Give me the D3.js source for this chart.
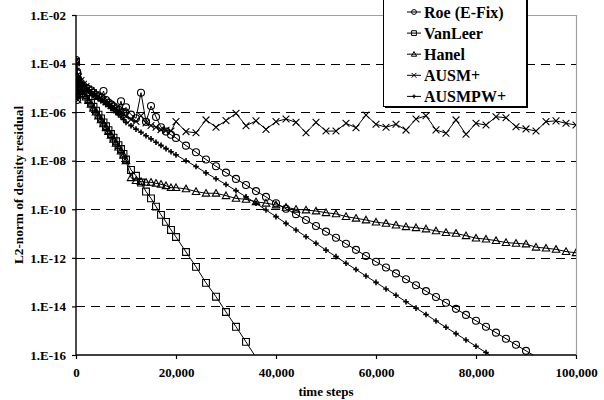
<!DOCTYPE html>
<html><head><meta charset="utf-8">
<script src="https://cdn.jsdelivr.net/npm/d3@7"></script>
<style>
body{margin:0;background:#fff;}
svg{display:block;font-family:"Liberation Serif","Times New Roman",serif;font-weight:bold;}
</style></head><body>
<svg id="chart" width="604" height="400"></svg>
<script>
// ---------- DATA ----------
const steps = [0,100,200,300,400,500,1000,1500,2000,2500,3000,3500,4000,4500,5000,5500,6000,6500,7000,7500,8000,8500,9000,9500,10000,
 11000,12000,13000,14000,15000,16000,17000,18000,19000,20000,
 22000,24000,26000,28000,30000,32000,34000,36000,38000,40000,42000,44000,46000,48000,50000,52000,54000,56000,58000,60000,
 62000,64000,66000,68000,70000,72000,74000,76000,78000,80000,82000,84000,86000,88000,90000,92000,94000,96000,98000,100000];

const roeValues = [1.41e-4,2.51e-5,3.16e-6,3.98e-5,7.94e-6,2.0e-5,1.58e-5,1.20e-5,1.0e-5,8.91e-6,7.94e-6,6.31e-6,5.01e-6,4.47e-6,3.80e-6,7.41e-6,3.16e-6,2.51e-6,2.09e-6,1.74e-6,1.45e-6,1.26e-6,2.82e-6,1.0e-6,1.58e-6,
 7.94e-7,5.62e-7,6.31e-6,3.98e-7,1.78e-6,6.31e-7,2.40e-7,1.58e-7,1.17e-7,8.71e-8,
 4.17e-8,2.24e-8,1.12e-8,5.89e-9,3.24e-9,1.78e-9,1.0e-9,5.62e-10,3.24e-10,1.78e-10,1.05e-10,6.31e-11,3.63e-11,2.04e-11,1.20e-11,6.76e-12,3.80e-12,2.14e-12,1.20e-12,6.92e-13,
 3.98e-13,2.29e-13,1.32e-13,7.41e-14,4.27e-14,2.45e-14,1.41e-14,7.94e-15,4.47e-15,2.57e-15,1.45e-15,8.32e-16,4.68e-16,2.63e-16,1.48e-16,8.51e-17];

const vanLeerValues = [1.12e-4,6.31e-6,3.98e-5,1.0e-5,2.0e-5,8.91e-6,7.94e-6,6.31e-6,5.01e-6,3.47e-6,2.40e-6,1.66e-6,1.15e-6,7.94e-7,5.50e-7,3.80e-7,2.63e-7,1.82e-7,1.26e-7,8.91e-8,6.31e-8,4.37e-8,3.02e-8,1.91e-8,1.12e-8,
 4.17e-9,2.40e-9,1.26e-9,5.37e-10,2.82e-10,1.29e-10,5.89e-11,3.02e-11,1.41e-11,7.24e-12,
 1.74e-12,4.27e-13,9.33e-14,2.51e-14,5.89e-15,1.45e-15,3.47e-16,7.94e-17];

const hanelValues = [1.26e-4,1.0e-5,3.16e-5,5.01e-6,1.58e-5,1.0e-5,7.08e-6,5.62e-6,4.17e-6,3.02e-6,2.09e-6,1.45e-6,1.0e-6,6.92e-7,4.79e-7,3.31e-7,2.29e-7,1.58e-7,1.10e-7,7.59e-8,5.25e-8,3.63e-8,2.51e-8,1.66e-8,1.0e-8,
 2.0e-9,1.51e-9,1.38e-9,1.29e-9,1.29e-9,1.17e-9,1.07e-9,9.33e-10,7.76e-10,7.76e-10,
 6.92e-10,5.37e-10,4.57e-10,4.57e-10,3.63e-10,2.82e-10,2.57e-10,2.04e-10,1.78e-10,1.51e-10,1.20e-10,1.0e-10,9.33e-11,8.51e-11,7.24e-11,6.46e-11,5.01e-11,4.27e-11,3.63e-11,2.95e-11,
 2.63e-11,2.24e-11,1.91e-11,1.74e-11,1.55e-11,1.29e-11,1.10e-11,1.02e-11,8.13e-12,6.46e-12,5.89e-12,5.13e-12,4.27e-12,3.98e-12,3.72e-12,2.75e-12,2.51e-12,2.24e-12,1.82e-12,1.62e-12];

const ausmPlusValues = [1.26e-4,5.01e-6,3.16e-5,1.26e-5,3.16e-6,2.82e-5,2.0e-5,1.41e-5,1.12e-5,8.91e-6,7.59e-6,6.31e-6,5.37e-6,4.47e-6,3.80e-6,3.16e-6,2.69e-6,2.24e-6,1.91e-6,1.58e-6,1.32e-6,1.12e-6,9.55e-7,7.94e-7,6.76e-7,
 5.01e-7,4.17e-7,7.08e-7,3.55e-7,2.82e-7,2.40e-7,1.91e-7,1.78e-7,1.66e-7,4.07e-7,
 1.58e-7,1.41e-7,4.79e-7,2.40e-7,4.47e-7,8.91e-7,2.75e-7,4.37e-7,1.95e-7,4.07e-7,5.25e-7,3.80e-7,1.41e-7,3.80e-7,1.66e-7,1.66e-7,3.47e-7,2.29e-7,7.59e-7,3.16e-7,
 2.40e-7,3.16e-7,1.82e-7,5.25e-7,7.08e-7,1.86e-7,1.35e-7,4.79e-7,1.23e-7,3.47e-7,2.95e-7,6.46e-7,5.89e-7,2.51e-7,2.04e-7,1.66e-7,4.07e-7,4.37e-7,3.47e-7,2.95e-7];

const ausmpwPlusValues = [1.58e-4,1.26e-5,6.31e-5,3.98e-6,3.16e-5,2.51e-5,1.78e-5,1.32e-5,1.0e-5,7.94e-6,6.31e-6,5.25e-6,4.37e-6,3.63e-6,3.02e-6,2.51e-6,2.09e-6,1.74e-6,1.41e-6,1.17e-6,9.77e-7,7.94e-7,6.31e-7,5.01e-7,3.80e-7,
 2.75e-7,2.0e-7,1.48e-7,1.07e-7,7.94e-8,5.75e-8,4.27e-8,3.16e-8,2.34e-8,1.74e-8,
 1.0e-8,5.75e-9,3.16e-9,1.82e-9,1.05e-9,5.89e-10,3.24e-10,1.78e-10,9.33e-11,5.01e-11,2.63e-11,1.41e-11,7.41e-12,3.98e-12,2.09e-12,1.12e-12,6.03e-13,3.31e-13,1.78e-13,9.77e-14,
 5.25e-14,2.88e-14,1.55e-14,8.51e-15,4.68e-15,2.51e-15,1.38e-15,7.59e-16,4.17e-16,2.29e-16,1.26e-16,6.92e-17];

const seriesNames = ["Roe (E-Fix)","VanLeer","Hanel","AUSM+","AUSMPW+"];
const yTicks = [1e-16,1e-14,1e-12,1e-10,1e-8,1e-6,1e-4,1e-2];
const yTickLabels = ["1.E-16","1.E-14","1.E-12","1.E-10","1.E-08","1.E-06","1.E-04","1.E-02"];
const xTicks = [0,20000,40000,60000,80000,100000];
const xTickLabels = ["0","20,000","40,000","60,000","80,000","100,000"];

// ---------- CHART ----------
const svg = d3.select("#chart");
const L = 76, R = 576, T = 15, B = 355;
const x = d3.scaleLinear().domain([0,100000]).range([L,R]);
const y = d3.scaleLog().domain([1e-16,1e-2]).range([B,T]);

const series = [
  {name: seriesNames[0], values: roeValues, marker: "circle"},
  {name: seriesNames[1], values: vanLeerValues, marker: "square"},
  {name: seriesNames[2], values: hanelValues, marker: "triangle"},
  {name: seriesNames[3], values: ausmPlusValues, marker: "x"},
  {name: seriesNames[4], values: ausmpwPlusValues, marker: "plus"}
];

function markerPath(type, k) {
  const s = 3.4 * k;
  switch (type) {
    case "circle": { const r = 3.5*k; return `M${r},0A${r},${r} 0 1,1 ${-r},0A${r},${r} 0 1,1 ${r},0Z`; }
    case "square": return `M${-s},${-s}H${s}V${s}H${-s}Z`;
    case "triangle": return `M0,${-s*1.1}L${s*1.1},${s*0.85}L${-s*1.1},${s*0.85}Z`;
    case "x": return `M${-s},${-s}L${s},${s}M${-s},${s}L${s},${-s}`;
    case "plus": { const p = 2.8*k; return `M${-p},0H${p}M0,${-p}V${p}`; }
  }
}

// plot area border (top/right grey)
svg.append("path").attr("d", `M${L},${T+0.5}H${R+0.5}V${B}`).attr("fill","none").attr("stroke","#a0a0a0").attr("stroke-width",1.2);

// gridlines
svg.append("g").selectAll("line").data(yTicks.filter(v => v > 1e-16 && v < 1e-2)).join("line")
  .attr("x1", L).attr("x2", R)
  .attr("y1", d => Math.round(y(d)) + 0.5).attr("y2", d => Math.round(y(d)) + 0.5)
  .attr("stroke", "#000").attr("stroke-width", 1).attr("stroke-dasharray", "9,6");

// clip
svg.append("clipPath").attr("id","clip").append("rect").attr("x",L).attr("y",T).attr("width",R-L).attr("height",B-T);

const line = d3.line().x(d => x(d[0])).y(d => y(d[1]));
const plot = svg.append("g").attr("clip-path","url(#clip)");
series.forEach(s => {
  const pts = s.values.map((v,i) => [steps[i], v]);
  plot.append("path").datum(pts).attr("d", line)
    .attr("fill","none").attr("stroke","#000").attr("stroke-width",1);
  plot.append("g").selectAll("path").data(pts.filter(p => p[1] >= 1e-16)).join("path")
    .attr("transform", d => `translate(${x(d[0])},${y(d[1])})`)
    .attr("d", markerPath(s.marker, 1))
    .attr("fill","none").attr("stroke","#000")
    .attr("stroke-width", s.marker === "plus" ? 1.6 : 1.1);
});

// axes
const yAxis = svg.append("g").attr("transform",`translate(${L},0)`)
  .call(d3.axisLeft(y).tickValues(yTicks).tickFormat((d,i) => yTickLabels[i]).tickSize(4).tickPadding(6));
const xAxis = svg.append("g").attr("transform",`translate(0,${B})`)
  .call(d3.axisBottom(x).tickValues(xTicks).tickFormat((d,i) => xTickLabels[i]).tickSize(4).tickPadding(9));
[yAxis, xAxis].forEach(a => {
  a.select(".domain").attr("stroke","#000").attr("stroke-width",1.4);
  a.selectAll(".tick line").attr("stroke","#000").attr("stroke-width",1.2);
  a.selectAll("text").attr("fill","#000").attr("font-size","13px").attr("font-weight","bold")
    .attr("font-family",'"Liberation Serif","Times New Roman",serif');
});
yAxis.select(".domain").attr("d", `M0,${T}V${B}`);
xAxis.select(".domain").attr("d", `M${L},0H${R}`);

// axis titles
svg.append("text").attr("x", 326).attr("y", 396).attr("text-anchor","middle")
  .attr("font-size","13px").text("time steps");
svg.append("text").attr("transform","translate(23,185) rotate(-90)").attr("text-anchor","middle")
  .attr("font-size","13.3px").text("L2-norm of density residual");

// legend
const lg = svg.append("g");
const lx = 383, ly = -4, lw = 143, lh = 110;
lg.append("rect").attr("x", lx+2).attr("y", ly+2).attr("width", lw).attr("height", lh).attr("fill","#000");
lg.append("rect").attr("x", lx+0.5).attr("y", ly+0.5).attr("width", lw).attr("height", lh)
  .attr("fill","#fff").attr("stroke","#000").attr("stroke-width",1);
series.forEach((s,i) => {
  const cy = 12 + i*21.1;
  lg.append("line").attr("x1",407).attr("x2",421).attr("y1",cy).attr("y2",cy).attr("stroke","#000").attr("stroke-width",1);
  lg.append("path").attr("transform",`translate(414,${cy})`).attr("d", markerPath(s.marker, 0.7))
    .attr("fill","none").attr("stroke","#000").attr("stroke-width", s.marker === "plus" ? 1.4 : 1);
  lg.append("text").attr("x",424).attr("y",cy+5.5).attr("font-size","16px").text(s.name);
});
</script>
</body></html>
